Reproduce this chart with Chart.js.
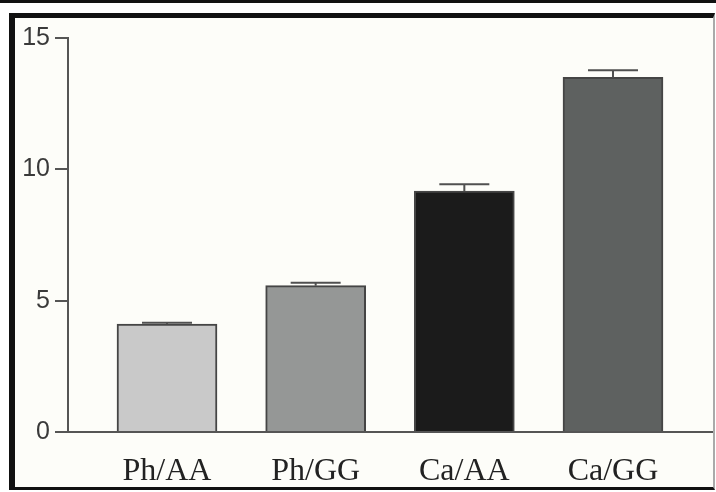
<!DOCTYPE html>
<html>
<head>
<meta charset="utf-8">
<script src="https://cdn.jsdelivr.net/npm/chart.js@4/dist/chart.umd.min.js"></script>
<style>
  html, body { margin: 0; padding: 0; background: #ffffff; }
  #wrap { position: relative; width: 716px; height: 492px; overflow: hidden; }
  #topline { position: absolute; left: 0; top: 0; width: 716px; height: 3px; background: #111; }
  #frame { position: absolute; left: 9px; top: 13px; width: 706px; height: 477px; box-sizing: border-box;
           border-top: 5px solid #111; border-left: 6px solid #111; border-bottom: 3px solid #111;
           border-right: 2px solid #aaa; background: #fdfdf9; }
  #cv { position: absolute; left: 0; top: 0; }
</style>
</head>
<body>
<div id="wrap">
  <div id="topline"></div>
  <div id="frame"></div>
  <canvas id="cv" width="716" height="492"></canvas>
</div>
<script>
const categories = ["Ph/AA", "Ph/GG", "Ca/AA", "Ca/GG"];
const values = [4.11, 5.57, 9.17, 13.5];
const errorsUpper = [0.05, 0.11, 0.26, 0.27];
const barColors = ["#c9c9c9", "#959796", "#1b1b1b", "#5e6160"];
const yTicks = [0, 5, 10, 15];

const errorBarPlugin = {
  id: 'errorBars',
  afterDatasetsDraw(chart) {
    const ctx = chart.ctx;
    const xs = chart.scales.x, ys = chart.scales.y;
    ctx.save();
    ctx.strokeStyle = '#505050';
    ctx.lineWidth = 2;
    values.forEach((v, i) => {
      const x = xs.getPixelForValue(i);
      const yTop = ys.getPixelForValue(v);
      const yErr = ys.getPixelForValue(v + errorsUpper[i]);
      ctx.beginPath();
      ctx.moveTo(x, yTop);
      ctx.lineTo(x, yErr);
      ctx.moveTo(x - 25, yErr);
      ctx.lineTo(x + 25, yErr);
      ctx.stroke();
    });
    ctx.restore();
  }
};

new Chart(document.getElementById('cv'), {
  type: 'bar',
  data: {
    datasets: [{
      data: categories.map((c, i) => ({ x: i, y: values[i] })),
      backgroundColor: barColors,
      borderColor: '#454545',
      borderWidth: 2,
      barThickness: 100
    }]
  },
  options: {
    responsive: false,
    animation: false,
    devicePixelRatio: 1,
    layout: { padding: { left: 0, right: 4, top: 38, bottom: 0 } },
    plugins: { legend: { display: false }, tooltip: { enabled: false } },
    scales: {
      x: {
        type: 'linear',
        offset: false,
        min: -0.666,
        max: 3.666,
        afterBuildTicks: (s) => { s.ticks = categories.map((c, i) => ({ value: i })); },
        afterFit: (s) => { s.height = 60; },
        grid: { display: false },
        border: { display: true, color: '#555', width: 2 },
        ticks: {
          callback: (v) => categories[v],
          font: { family: 'Liberation Serif', size: 32 },
          color: '#222',
          padding: 12,
          maxRotation: 0,
          autoSkip: false
        }
      },
      y: {
        min: 0,
        max: 15,
        afterBuildTicks: (s) => { s.ticks = yTicks.map(v => ({ value: v })); },
        afterFit: (s) => { s.width = 68; },
        grid: { drawOnChartArea: false, drawTicks: true, tickLength: 13, color: '#555', lineWidth: 2 },
        border: { display: true, color: '#555', width: 2 },
        ticks: {
          font: { family: 'Liberation Sans', size: 25 },
          color: '#3a3a3a',
          padding: 5
        }
      }
    }
  },
  plugins: [errorBarPlugin]
});
</script>
</body>
</html>
